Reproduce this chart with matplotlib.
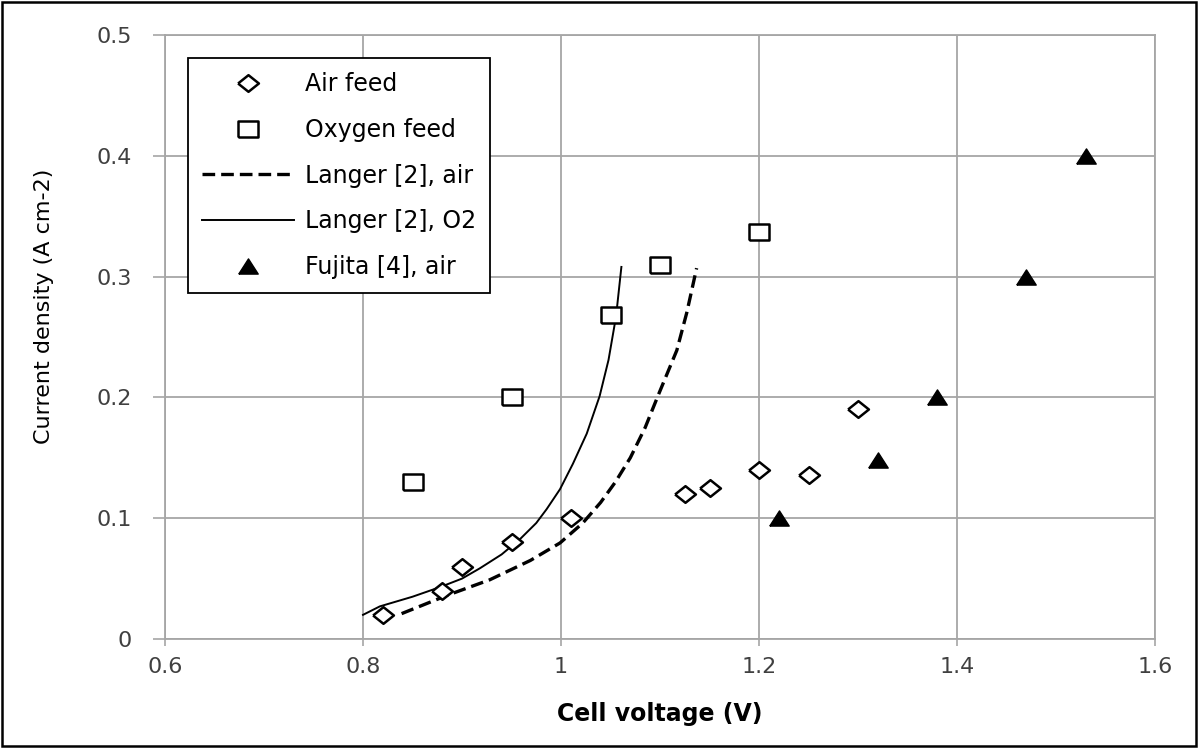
import matplotlib
matplotlib.use("Agg")
import matplotlib.pyplot as plt
from matplotlib.patches import Rectangle

plt.rcParams["font.family"] = ["DejaVu Sans"]

# Data
air_v = [0.82, 0.88, 0.90, 0.95, 1.01, 1.125, 1.15, 1.20, 1.25, 1.30]
air_j = [0.020, 0.040, 0.060, 0.080, 0.100, 0.120, 0.125, 0.140, 0.136, 0.190]

oxy_v = [0.85, 0.95, 1.05, 1.10, 1.20]
oxy_j = [0.130, 0.200, 0.268, 0.310, 0.337]

fuj_v = [1.22, 1.32, 1.38, 1.47, 1.53]
fuj_j = [0.100, 0.148, 0.200, 0.300, 0.400]

langer_o2_v = [0.800, 0.817, 0.850, 0.878, 0.900, 0.918, 0.940, 0.959, 0.975, 0.9855,
               0.999, 1.012, 1.026, 1.039, 1.048, 1.0556, 1.061]
langer_o2_j = [0.020, 0.027, 0.035, 0.043, 0.050, 0.0585, 0.070, 0.083, 0.096, 0.1075,
               0.124, 0.145, 0.170, 0.201, 0.231, 0.267, 0.308]

langer_air_v = [0.839, 0.8845, 0.928, 0.969, 0.999, 1.022, 1.040, 1.055, 1.070, 1.085,
                1.098, 1.117, 1.127, 1.137]
langer_air_j = [0.021, 0.036, 0.049, 0.065, 0.0795, 0.096, 0.113, 0.130, 0.150, 0.175,
                0.2014, 0.239, 0.270, 0.307]

xticks = [0.6, 0.8, 1.0, 1.2, 1.4, 1.6]
xtick_labels = ["0.6", "0.8", "1", "1.2", "1.4", "1.6"]
yticks = [0, 0.1, 0.2, 0.3, 0.4, 0.5]
ytick_labels = ["0", "0.1", "0.2", "0.3", "0.4", "0.5"]

grid_c = "#a6a6a6"
tick_c = "#404040"

fig = plt.figure(figsize=(11.98, 7.48), dpi=100)
ax = fig.add_axes([165/1198, 1-639/748, 990/1198, 604/748])

diamond = [(-1, 0), (0, 0.8), (1, 0), (0, -0.8), (-1, 0)]
square = [(-1, -0.85), (1, -0.85), (1, 0.85), (-1, 0.85), (-1, -0.85)]
tri = [(-1, -0.78), (1, -0.78), (0, 0.78), (-1, -0.78)]

ax.plot(air_v, air_j, linestyle="none", marker=diamond, markersize=15,
        markerfacecolor="white", markeredgecolor="black", markeredgewidth=1.8,
        label="Air feed", zorder=4)
ax.plot(oxy_v, oxy_j, linestyle="none", marker=square, markersize=14,
        markerfacecolor="white", markeredgecolor="black", markeredgewidth=1.8,
        label="Oxygen feed", zorder=4)
ax.plot(langer_air_v, langer_air_j, color="black", linewidth=2.4,
        dashes=(3.8, 1.8), label="Langer [2], air", zorder=3)
ax.plot(langer_o2_v, langer_o2_j, color="black", linewidth=1.4,
        label="Langer [2], O2", zorder=3)
ax.plot(fuj_v, fuj_j, linestyle="none", marker=tri, markersize=14,
        markerfacecolor="black", markeredgecolor="black",
        label="Fujita [4], air", zorder=4)

ax.set_xlim(0.6, 1.6)
ax.set_ylim(0, 0.5)
ax.set_xticks(xticks)
ax.set_xticklabels(xtick_labels, fontfamily="DejaVu Sans")
ax.set_yticks(yticks)
ax.set_yticklabels(ytick_labels, fontfamily="DejaVu Sans")
ax.grid(True, color=grid_c, linewidth=1.3)
ax.set_axisbelow(True)
for s in ax.spines.values():
    s.set_color(grid_c)
    s.set_linewidth(1.3)
ax.tick_params(axis="both", direction="out", width=1.2, color=grid_c,
               labelcolor=tick_c, labelsize=16)
ax.tick_params(axis="x", length=5, pad=8)
ax.tick_params(axis="y", length=8.6, pad=15)

ax.set_xlabel("Cell voltage (V)", fontsize=17, fontweight="bold")
ax.set_ylabel("Current density (A cm-2)", fontsize=16)
ax.xaxis.set_label_coords(0.5, (639-702)/604)
ax.yaxis.set_label_coords((54-165)/990, (639-306)/604)

leg = ax.legend(loc="upper left", bbox_to_anchor=((188-165)/990, (639-58)/604),
                borderaxespad=0, frameon=True, fancybox=False, edgecolor="black",
                prop={"size": 17},
                handlelength=3.9, labelspacing=0.92, borderpad=0.6,
                handletextpad=0.45)
leg.get_frame().set_linewidth(1.3)
leg.get_frame().set_alpha(1)

fig.patches.append(Rectangle((0.0015, 0.003), 0.997, 0.994, transform=fig.transFigure,
                             fill=False, edgecolor="black", linewidth=1.8))

fig.savefig("out.png", dpi=100)
